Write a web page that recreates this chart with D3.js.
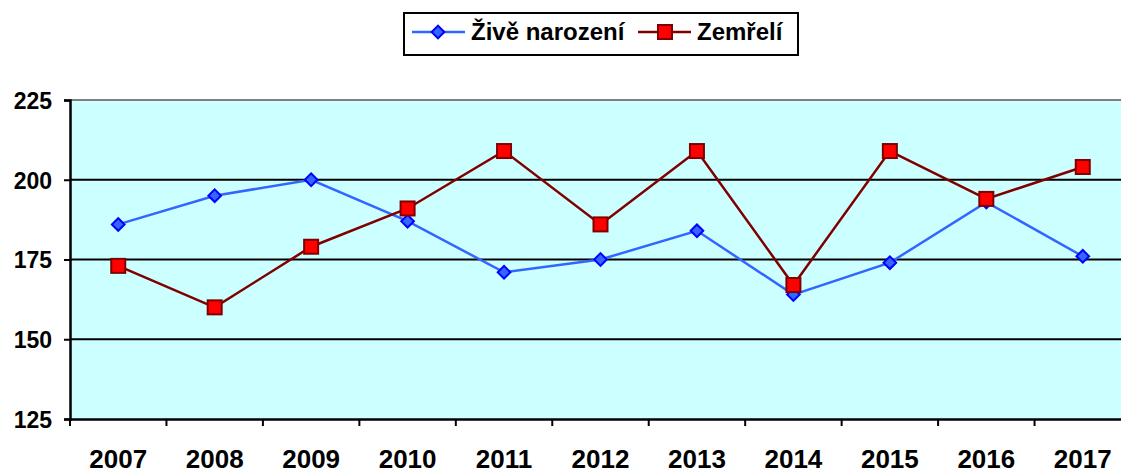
<!DOCTYPE html>
<html>
<head>
<meta charset="utf-8">
<script src="https://cdnjs.cloudflare.com/ajax/libs/d3/7.8.5/d3.min.js"></script>
<style>
  body { margin: 0; background: #fff; }
  svg { display: block; font-family: "Liberation Sans", Arial, sans-serif; font-weight: bold; }
</style>
</head>
<body>
<div id="chart"></div>
<script>
// data
var years = ["2007","2008","2009","2010","2011","2012","2013","2014","2015","2016","2017"];
var zive = [186, 195, 200, 187, 171, 175, 184, 164, 174, 193, 176];
var zemreli = [173, 160, 179, 191, 209, 186, 209, 167, 209, 194, 204];
var yTicks = [125, 150, 175, 200, 225];
var seriesNames = ["Živě narození", "Zemřelí"];

var width = 1121, height = 475;
var plotLeft = 70, plotTop = 100, plotW = 1061, plotH = 319;

var svg = d3.select("#chart").append("svg")
    .attr("width", width)
    .attr("height", height);

var x = d3.scaleBand().domain(years).range([plotLeft, plotLeft + plotW]);
var y = d3.scaleLinear().domain([125, 225]).range([plotTop + plotH, plotTop]);

// plot background
svg.append("rect")
    .attr("x", plotLeft).attr("y", plotTop)
    .attr("width", plotW).attr("height", plotH)
    .attr("fill", "#CCFFFF");

svg.append("line")
    .attr("x1", plotLeft).attr("x2", plotLeft + plotW)
    .attr("y1", plotTop).attr("y2", plotTop)
    .attr("stroke", "#808080").attr("stroke-width", 2);

// grid
svg.selectAll(".grid").data([150, 175, 200]).enter().append("line")
    .attr("x1", plotLeft).attr("x2", plotLeft + plotW)
    .attr("y1", function(d){ return y(d); }).attr("y2", function(d){ return y(d); })
    .attr("stroke", "#000").attr("stroke-width", 2);

// y axis
var yAxis = svg.append("g")
    .attr("transform", "translate(" + plotLeft + ",0)")
    .call(d3.axisLeft(y).tickValues(yTicks).tickSize(6).tickPadding(12));
yAxis.select(".domain").attr("stroke-width", 2.5);
yAxis.selectAll(".tick line").attr("stroke-width", 2);
yAxis.selectAll("text").attr("font-size", 23).attr("fill", "#000").attr("dy", "0.36em");

// x axis
var xAxis = svg.append("g")
    .attr("transform", "translate(0," + (plotTop + plotH) + ")")
    .call(d3.axisBottom(x).tickSize(0).tickPadding(31));
xAxis.select(".domain").attr("stroke-width", 2.5);
xAxis.selectAll("text").attr("font-size", 26).attr("fill", "#000");
xAxis.selectAll(".sep").data(years).enter().append("line")
    .attr("x1", function(d){ return x(d); }).attr("x2", function(d){ return x(d); })
    .attr("y1", 0).attr("y2", 7)
    .attr("stroke", "#000").attr("stroke-width", 2);

var line = d3.line()
    .x(function(d, i){ return x(years[i]) + x.bandwidth() / 2; })
    .y(function(d){ return y(d); });

// blue series
svg.append("path").datum(zive)
    .attr("d", line).attr("fill", "none")
    .attr("stroke", "#3366FF").attr("stroke-width", 2.5);
svg.selectAll(".dia").data(zive).enter().append("path")
    .attr("d", d3.symbol().type(d3.symbolSquare).size(80))
    .attr("transform", function(d, i){ return "translate(" + (x(years[i]) + x.bandwidth() / 2) + "," + y(d) + ") rotate(45)"; })
    .attr("fill", "#3366FF").attr("stroke", "#0000FF").attr("stroke-width", 2);

// red series
svg.append("path").datum(zemreli)
    .attr("d", line).attr("fill", "none")
    .attr("stroke", "#800000").attr("stroke-width", 2.5);
svg.selectAll(".sq").data(zemreli).enter().append("rect")
    .attr("x", function(d, i){ return x(years[i]) + x.bandwidth() / 2 - 7; })
    .attr("y", function(d){ return y(d) - 7; })
    .attr("width", 14).attr("height", 14)
    .attr("fill", "#FF0000").attr("stroke", "#800000").attr("stroke-width", 2);

// legend
var lg = svg.append("g");
lg.append("rect")
    .attr("x", 404).attr("y", 13).attr("width", 394).attr("height", 42)
    .attr("fill", "#fff").attr("stroke", "#000").attr("stroke-width", 2);
lg.append("line").attr("x1", 412).attr("x2", 465).attr("y1", 32).attr("y2", 32)
    .attr("stroke", "#3366FF").attr("stroke-width", 2.5);
lg.append("path")
    .attr("d", d3.symbol().type(d3.symbolSquare).size(80))
    .attr("transform", "translate(438,32) rotate(45)")
    .attr("fill", "#3366FF").attr("stroke", "#0000FF").attr("stroke-width", 2);
lg.append("text").attr("x", 471).attr("y", 40).attr("font-size", 24).text(seriesNames[0]);
lg.append("line").attr("x1", 638).attr("x2", 691).attr("y1", 32).attr("y2", 32)
    .attr("stroke", "#800000").attr("stroke-width", 2.5);
lg.append("rect").attr("x", 658).attr("y", 25).attr("width", 14).attr("height", 14)
    .attr("fill", "#FF0000").attr("stroke", "#800000").attr("stroke-width", 2);
lg.append("text").attr("x", 697).attr("y", 40).attr("font-size", 24).text(seriesNames[1]);
</script>
</body>
</html>
